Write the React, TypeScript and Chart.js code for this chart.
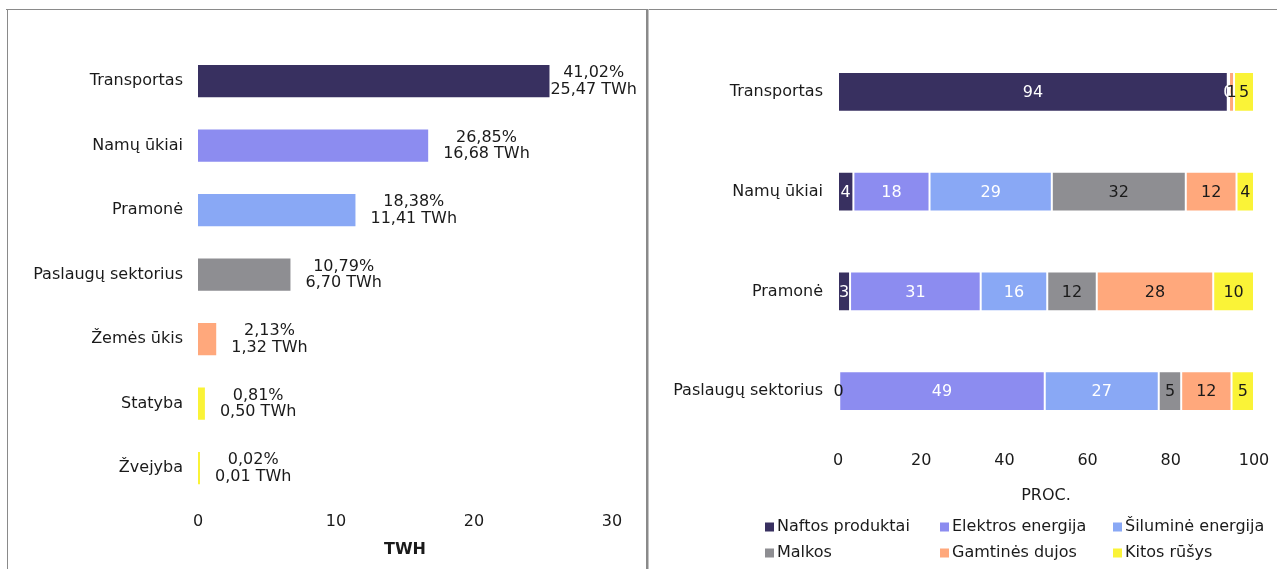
import React, { useEffect, useRef } from "react";
import { Chart, registerables } from "chart.js";

Chart.register(...registerables);

// ---------- Left chart data ----------
const sectors = ["Transportas", "Namų ūkiai", "Pramonė", "Paslaugų sektorius", "Žemės ūkis", "Statyba", "Žvejyba"];
const sectorTWh = [25.47, 16.68, 11.41, 6.7, 1.32, 0.5, 0.01];
const sectorShare = [41.02, 26.85, 18.38, 10.79, 2.13, 0.81, 0.02];
const sectorColors = ["#383060", "#8C8CF0", "#89A8F5", "#8E8E92", "#FFA87C", "#FAF337", "#FAF337"];
const twhAxisTitle = "TWH";

// ---------- Right chart data ----------
const fuelSectors = ["Transportas", "Namų ūkiai", "Pramonė", "Paslaugų sektorius"];
const fuelNames = ["Naftos produktai", "Elektros energija", "Šiluminė energija", "Malkos", "Gamtinės dujos", "Kitos rūšys"];
const naftos = [93.7, 3.7, 2.9, 0.3];
const elektros = [0.3, 18.3, 31.4, 49.4];
const siluma = [null, 29.4, 16.0, 27.4];
const malkos = [null, 32.2, 11.9, 5.4];
const dujos = [1.2, 12.2, 28.0, 12.1];
const kitos = [4.8, 4.2, 9.8, 5.4];
const fuelColors = ["#383060", "#8C8CF0", "#89A8F5", "#8E8E92", "#FFA87C", "#FAF337"];
const procAxisTitle = "PROC.";

const FONT = "'DejaVu Sans', Verdana, sans-serif";
const TEXT = "#1a1a1a";

const fmt = (v: number) => v.toFixed(2).replace(".", ",");

const leftLabelPlugin = {
  id: "leftLabels",
  afterDatasetsDraw(chart: any) {
    const ctx = chart.ctx;
    const meta = chart.getDatasetMeta(0);
    const limit = chart.chartArea.right + 25;
    ctx.save();
    ctx.font = `16px ${FONT}`;
    ctx.fillStyle = TEXT;
    ctx.textAlign = "center";
    ctx.textBaseline = "middle";
    meta.data.forEach((el: any, i: number) => {
      const l1 = `${fmt(sectorShare[i])}%`;
      const l2 = `${fmt(sectorTWh[i])} TWh`;
      const w = Math.max(ctx.measureText(l1).width, ctx.measureText(l2).width);
      let left = el.x + 15;
      if (left + w > limit) left = limit - w;
      const cx = left + w / 2;
      ctx.fillText(l1, cx, el.y - 8);
      ctx.fillText(l2, cx, el.y + 8.5);
    });
    ctx.restore();
  },
};

const rightLabelPlugin = {
  id: "rightLabels",
  afterDatasetsDraw(chart: any) {
    const ctx = chart.ctx;
    ctx.save();
    ctx.font = `16px ${FONT}`;
    ctx.textAlign = "center";
    ctx.textBaseline = "middle";
    chart.data.datasets.forEach((ds: any, di: number) => {
      const meta = chart.getDatasetMeta(di);
      meta.data.forEach((el: any, i: number) => {
        const v = ds.data[i];
        if (v === null || v === undefined) return;
        let color = di <= 2 ? "#ffffff" : TEXT;
        if (di === 0 && v < 1) color = TEXT;
        ctx.fillStyle = color;
        ctx.fillText(String(Math.round(v)), (el.x + el.base) / 2, el.y + 1);
      });
    });
    ctx.restore();
  },
};

const rightLegendPlugin = {
  id: "gridLegend",
  afterDraw(chart: any) {
    const ctx = chart.ctx;
    const left = chart.chartArea.left;
    const cols = [left - 73, left + 102, left + 275];
    const rows = [chart.height - 42, chart.height - 16];
    ctx.save();
    ctx.font = `16px ${FONT}`;
    ctx.textAlign = "left";
    ctx.textBaseline = "middle";
    chart.data.datasets.forEach((ds: any, i: number) => {
      const x = cols[i % 3];
      const y = rows[Math.floor(i / 3)];
      ctx.fillStyle = ds.backgroundColor;
      ctx.fillRect(x, y - 4.5, 9, 9);
      ctx.fillStyle = TEXT;
      ctx.fillText(ds.label, x + 12, y);
    });
    ctx.restore();
  },
};

function LeftChart() {
  const ref = useRef<HTMLCanvasElement | null>(null);
  useEffect(() => {
    if (!ref.current) return;
    const chart = new Chart(ref.current, {
      type: "bar",
      data: {
        labels: sectors,
        datasets: [
          {
            data: sectorTWh,
            backgroundColor: sectorColors,
            barPercentage: 0.5,
            categoryPercentage: 1,
            minBarLength: 2,
          },
        ],
      },
      options: {
        indexAxis: "y",
        responsive: false,
        animation: false,
        layout: { padding: { top: 38.75, right: 34, bottom: 0, left: 0 } },
        plugins: { legend: { display: false }, tooltip: { enabled: false } },
        scales: {
          x: {
            min: 0,
            max: 30,
            ticks: { stepSize: 10, color: TEXT, font: { family: FONT, size: 16 }, padding: 12, maxRotation: 0 },
            grid: { display: false, drawTicks: false },
            border: { display: false },
            title: {
              display: true,
              text: twhAxisTitle,
              color: TEXT,
              font: { family: FONT, size: 16, weight: "bold" },
              padding: { top: 0, bottom: 10 },
            },
            afterFit(s: any) {
              s.height = 68.5;
              s.paddingRight = 0;
              s.paddingLeft = 0;
            },
          },
          y: {
            ticks: { color: TEXT, font: { family: FONT, size: 16 }, padding: 15 },
            grid: { display: false, drawTicks: false },
            border: { display: false },
            afterFit(s: any) {
              s.width = 190;
              s.paddingTop = 0;
              s.paddingBottom = 0;
            },
          },
        },
      } as any,
      plugins: [leftLabelPlugin],
    });
    return () => chart.destroy();
  }, []);
  return <canvas ref={ref} width={638} height={559} style={{ position: "absolute", left: 8, top: 10, width: 638, height: 559 }} />;
}

function RightChart() {
  const ref = useRef<HTMLCanvasElement | null>(null);
  useEffect(() => {
    if (!ref.current) return;
    const series = [naftos, elektros, siluma, malkos, dujos, kitos];
    const chart = new Chart(ref.current, {
      type: "bar",
      data: {
        labels: fuelSectors,
        datasets: series.map((d, i) => ({
          label: fuelNames[i],
          data: d,
          backgroundColor: fuelColors[i],
          borderColor: "rgba(255,255,255,0.35)",
          borderWidth: 1,
          borderSkipped: false,
          barPercentage: 0.4,
          categoryPercentage: 1,
        })),
      },
      options: {
        indexAxis: "y",
        responsive: false,
        animation: false,
        layout: { padding: { top: 32, right: 23, bottom: 59, left: 0 } },
        plugins: { legend: { display: false }, tooltip: { enabled: false } },
        scales: {
          x: {
            stacked: true,
            min: 0,
            max: 100,
            ticks: { stepSize: 20, color: TEXT, font: { family: FONT, size: 16 }, padding: 10, maxRotation: 0 },
            grid: { display: false, drawTicks: false },
            border: { display: false },
            title: {
              display: true,
              text: procAxisTitle,
              color: TEXT,
              font: { family: FONT, size: 16 },
              padding: { top: 0, bottom: 5 },
            },
            afterFit(s: any) {
              s.height = 69;
              s.paddingRight = 0;
              s.paddingLeft = 0;
            },
          },
          y: {
            stacked: true,
            ticks: { color: TEXT, font: { family: FONT, size: 16 }, padding: 15 },
            grid: { display: false, drawTicks: false },
            border: { display: false },
            afterFit(s: any) {
              s.width = 188;
              s.paddingTop = 0;
              s.paddingBottom = 0;
            },
          },
        },
      } as any,
      plugins: [rightLabelPlugin, rightLegendPlugin],
    });
    return () => chart.destroy();
  }, []);
  return <canvas ref={ref} width={627} height={559} style={{ position: "absolute", left: 650, top: 10, width: 627, height: 559 }} />;
}

export default function App() {
  return (
    <div
      style={{
        position: "fixed",
        left: 0,
        top: 0,
        width: 1277,
        height: 569,
        overflow: "hidden",
        background: "#ffffff",
      }}
    >
      <div style={{ position: "absolute", left: 6, top: 9, width: 1271, height: 1, background: "#8a8a8a" }} />
      <div style={{ position: "absolute", left: 7, top: 9, width: 1, height: 560, background: "#8a8a8a" }} />
      <div style={{ position: "absolute", left: 646, top: 9, width: 2, height: 560, background: "#8a8a8a" }} />
      <div style={{ position: "absolute", left: 648, top: 9, width: 1, height: 560, background: "#c4c4c4" }} />
      <LeftChart />
      <RightChart />
    </div>
  );
}
